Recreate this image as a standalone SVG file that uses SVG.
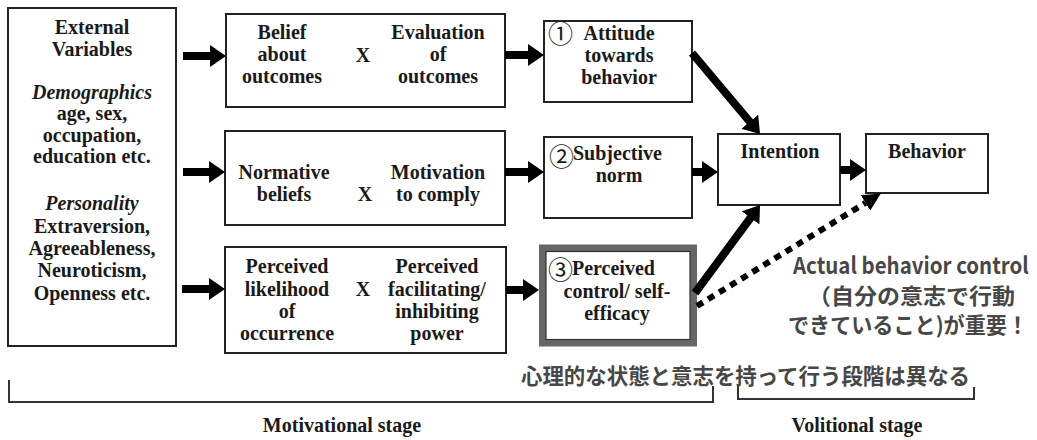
<svg xmlns="http://www.w3.org/2000/svg" width="1037" height="440" viewBox="0 0 1037 440">
<style>
.box{fill:#fff;stroke:#222;stroke-width:2}
.t{font-family:"Liberation Serif","Times New Roman",serif;font-size:20px;font-weight:bold;fill:#1a1a1a;text-anchor:middle}
.tl{font-family:"Liberation Serif","Times New Roman",serif;font-size:20px;font-weight:bold;fill:#1a1a1a}
.it{font-style:italic}
.num{font-family:"Noto Sans CJK JP","DejaVu Sans",sans-serif;font-size:25px;fill:#1a1a1a}
.jp{font-family:"Noto Sans CJK JP","Noto Sans",sans-serif;font-weight:bold;fill:#474747}
.arr{stroke:#000;stroke-width:8;fill:none}
.dot{stroke:#000;stroke-width:6;fill:none;stroke-dasharray:7 6}
.br{stroke:#333;stroke-width:2;fill:none}
</style>
<defs>
<marker id="ah" markerUnits="userSpaceOnUse" viewBox="0 0 16 22" refX="6" refY="11" markerWidth="16" markerHeight="22" orient="auto">
<path d="M0,0 L16,11 L0,22 Z" fill="#000"/>
</marker>
<marker id="ahd" markerUnits="userSpaceOnUse" viewBox="0 0 18 18" refX="0" refY="9" markerWidth="18" markerHeight="18" orient="auto">
<path d="M0,0 L18,9 L0,18 Z" fill="#000"/>
</marker>
</defs>
<rect width="1037" height="440" fill="#fff"/>

<g id="external">
<rect class="box" x="8" y="8" width="168" height="338"/>
<text class="t" x="92" y="34">External</text>
<text class="t" x="92" y="56">Variables</text>
<text class="t it" x="92" y="99">Demographics</text>
<text class="t" x="92" y="120">age, sex,</text>
<text class="t" x="92" y="142">occupation,</text>
<text class="t" x="92" y="163">education etc.</text>
<text class="t it" x="92" y="210">Personality</text>
<text class="t" x="92" y="233">Extraversion,</text>
<text class="t" x="92" y="255">Agreeableness,</text>
<text class="t" x="92" y="277">Neuroticism,</text>
<text class="t" x="92" y="300">Openness etc.</text>
</g>

<g id="belief">
<rect class="box" x="226" y="14" width="279" height="93"/>
<text class="t" x="282" y="39">Belief</text>
<text class="t" x="282" y="61">about</text>
<text class="t" x="282" y="83">outcomes</text>
<text class="t" x="363" y="62">X</text>
<text class="t" x="438" y="39">Evaluation</text>
<text class="t" x="438" y="61">of</text>
<text class="t" x="438" y="83">outcomes</text>
</g>

<g id="normative">
<rect class="box" x="225" y="131" width="280" height="94"/>
<text class="t" x="284" y="179">Normative</text>
<text class="t" x="284" y="201">beliefs</text>
<text class="t" x="365" y="201">X</text>
<text class="t" x="438" y="179">Motivation</text>
<text class="t" x="438" y="201">to comply</text>
</g>

<g id="perceived">
<rect class="box" x="225" y="247" width="281" height="106"/>
<text class="t" x="287" y="273">Perceived</text>
<text class="t" x="287" y="296">likelihood</text>
<text class="t" x="287" y="318">of</text>
<text class="t" x="287" y="340">occurrence</text>
<text class="t" x="363" y="296">X</text>
<text class="t" x="437" y="273">Perceived</text>
<text class="t" x="437" y="296">facilitating/</text>
<text class="t" x="437" y="318">inhibiting</text>
<text class="t" x="437" y="340">power</text>
</g>

<g id="attitude">
<rect class="box" x="544" y="21" width="148" height="81"/>
<text class="num" x="548" y="43">①</text>
<text class="t" x="619" y="40">Attitude</text>
<text class="t" x="619" y="62">towards</text>
<text class="t" x="619" y="84">behavior</text>
</g>

<g id="subjective">
<rect class="box" x="544" y="137" width="148" height="81"/>
<text class="num" x="549" y="166">②</text>
<text class="tl" x="573" y="160">Subjective</text>
<text class="t" x="619" y="182">norm</text>
</g>

<g id="control">
<rect x="542.5" y="248" width="151" height="95" fill="#fff" stroke="#666" stroke-width="7"/>
<rect x="546" y="251.5" width="144" height="88" fill="none" stroke="#333" stroke-width="1.2"/>
<text class="num" x="548" y="279">③</text>
<text class="tl" x="572" y="275">Perceived</text>
<text class="t" x="617" y="298">control/ self-</text>
<text class="t" x="617" y="320">efficacy</text>
</g>

<g id="intention">
<rect class="box" x="718" y="134" width="122" height="71"/>
<text class="t" x="780" y="158">Intention</text>
</g>

<g id="behavior">
<rect class="box" x="866" y="134" width="122" height="59"/>
<text class="t" x="927" y="158">Behavior</text>
</g>

<g id="connectors">
<line class="arr" x1="183" y1="56" x2="216" y2="56" marker-end="url(#ah)"/>
<line class="arr" x1="183" y1="172" x2="215" y2="172" marker-end="url(#ah)"/>
<line class="arr" x1="182" y1="289" x2="215" y2="289" marker-end="url(#ah)"/>
<line class="arr" x1="505" y1="55" x2="534" y2="55" marker-end="url(#ah)"/>
<line class="arr" x1="505" y1="172" x2="534" y2="172" marker-end="url(#ah)"/>
<line class="arr" x1="506" y1="290" x2="529" y2="290" marker-end="url(#ah)"/>
<line class="arr" x1="692" y1="172" x2="708" y2="172" marker-end="url(#ah)"/>
<line class="arr" x1="840" y1="170" x2="856" y2="170" marker-end="url(#ah)"/>
<line class="arr" x1="692" y1="53" x2="753.6" y2="126.3" marker-end="url(#ah)"/>
<line class="arr" x1="695" y1="293" x2="754.1" y2="213" marker-end="url(#ah)"/>
<line class="dot" x1="697" y1="306" x2="865.5" y2="202.9" marker-end="url(#ahd)"/>
</g>

<g id="annotation">
<text class="jp" transform="translate(793,274) scale(0.89,1)" x="0" y="0" font-size="23">Actual behavior control</text>
<text class="jp" x="808" y="304" font-size="22" textLength="207" lengthAdjust="spacingAndGlyphs">（自分の意志で行動</text>
<text class="jp" x="788" y="333" font-size="22" textLength="240" lengthAdjust="spacingAndGlyphs">できていること)が重要！</text>
<text class="jp" x="521" y="384" font-size="22" textLength="449" lengthAdjust="spacingAndGlyphs">心理的な状態と意志を持って行う段階は異なる</text>
</g>

<g id="stages">
<path class="br" d="M9,380 V402 H713 V386"/>
<path class="br" d="M738,386 V399 H974 V387"/>
<text class="t" x="342" y="432">Motivational stage</text>
<text class="t" x="857" y="432">Volitional stage</text>
</g>
</svg>
